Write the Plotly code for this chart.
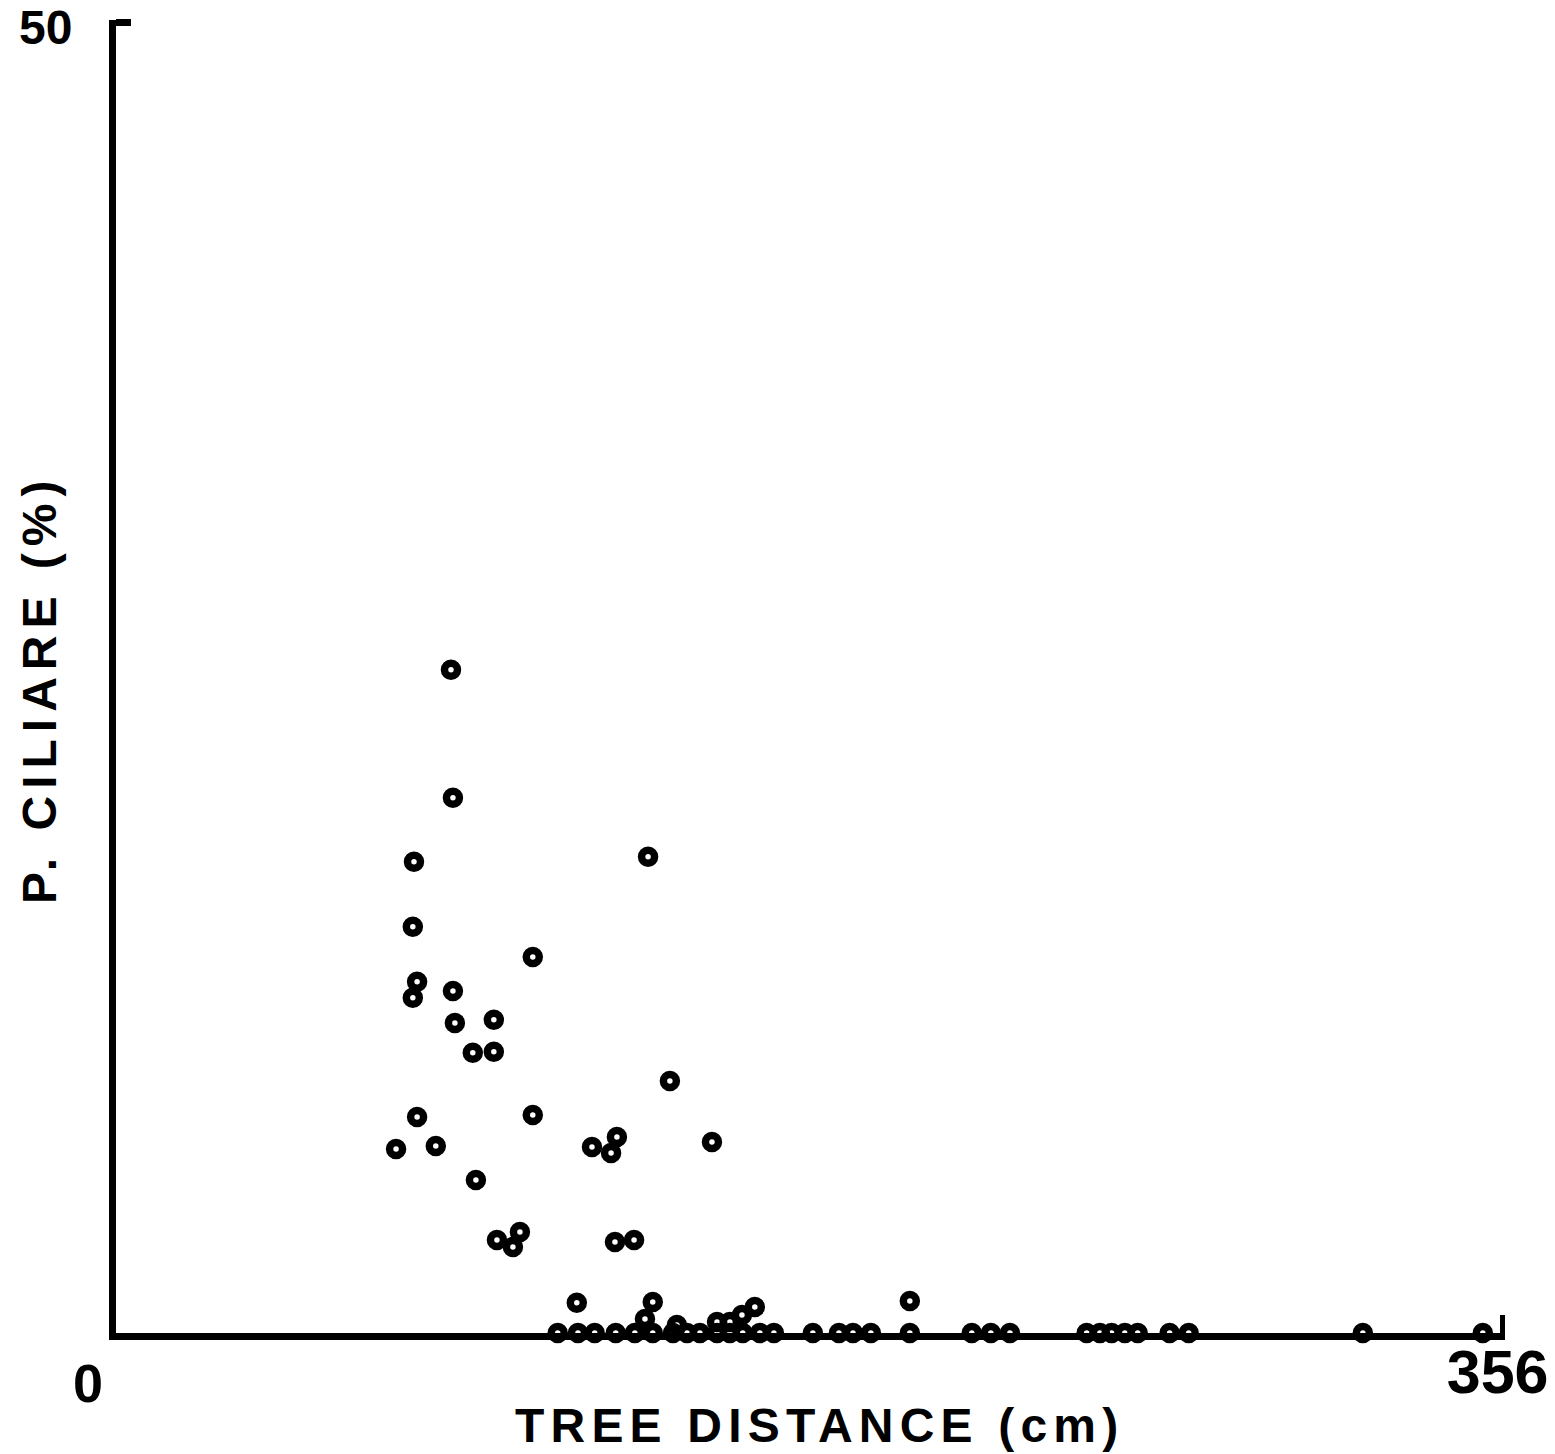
import plotly.graph_objects as go

# ---- data (tree distance in cm, P. ciliare in %) ----
dist_raised = [86.0, 86.5, 76.5, 136.6, 76.2, 107.0, 77.3, 76.2, 86.5, 87.0,
               97.0, 91.6, 97.0, 142.2, 77.3, 107.0, 71.9, 82.1, 122.2, 128.6,
               127.1, 153.0, 92.4, 97.8, 103.7, 101.9, 128.1, 133.0,
               118.3, 137.8, 135.8, 164.0, 160.7, 154.3, 157.6, 144.0, 203.8]
pct_raised = [25.31, 20.42, 17.98, 18.17, 15.50, 14.35, 13.40, 12.79, 13.05, 11.83,
              11.95, 10.69, 10.73, 9.62, 8.24, 8.32, 7.02, 7.14, 7.10, 7.48,
              6.87, 7.29, 5.84, 3.55, 3.85, 3.28, 3.47, 3.55,
              1.15, 1.18, 0.53, 0.99, 0.69, 0.42, 0.42, 0.31, 1.22]

dist_zero = [113.4, 118.6, 122.9, 128.3, 133.2, 137.8, 143.0, 146.6, 149.9, 154.3,
             157.6, 160.9, 165.3, 168.9, 178.9, 185.6, 189.2, 193.8, 203.8, 219.7,
             224.6, 229.5, 249.2, 252.6, 255.6, 259.0, 262.3, 270.5, 275.4, 320.1,
             350.9]
pct_zero = [0.0] * len(dist_zero)

x_ticks = [356]
x_tick_labels = ["356"]
y_ticks = [50]
y_tick_labels = ["50"]
x_title = "TREE DISTANCE (cm)"
y_title = "P. CILIARE (%)"

FONT = "Liberation Sans"

fig = go.Figure()
marker_style = dict(symbol="circle-open", size=13, color="black",
                    line=dict(width=7.5, color="black"))
fig.add_trace(go.Scatter(x=dist_raised, y=pct_raised, mode="markers",
                         marker=marker_style, cliponaxis=False, showlegend=False))
fig.add_trace(go.Scatter(x=dist_zero, y=pct_zero, mode="markers",
                         marker=marker_style, cliponaxis=False, showlegend=False))

fig.update_layout(
    width=1547, height=1446,
    margin=dict(l=108, r=50, t=12, b=121, autoexpand=False),
    paper_bgcolor="white", plot_bgcolor="white",
    font=dict(family=FONT, color="black"),
    xaxis=dict(
        range=[0, 356.6], showgrid=False, zeroline=False, automargin=False,
        showline=True, linewidth=7, linecolor="black",
        ticks="inside", ticklen=18, tickwidth=5, tickcolor="black",
        tickvals=x_ticks, ticktext=x_tick_labels,
        tickfont=dict(family=FONT, size=61, weight="bold", color="black"),
        ticklabelstandoff=-20, ticklabelshift=-5, ticklabeloverflow="allow",
    ),
    yaxis=dict(
        range=[0, 50.1], showgrid=False, zeroline=False, automargin=False,
        showline=True, linewidth=7, linecolor="black",
        ticks="inside", ticklen=15, tickwidth=7, tickcolor="black",
        tickvals=y_ticks, ticktext=y_tick_labels,
        tickfont=dict(family=FONT, size=48, weight="bold", color="black"),
        ticklabelstandoff=27, ticklabelshift=5, ticklabeloverflow="allow",
    ),
    annotations=[
        dict(text=f'<span style="letter-spacing:6.2px">{x_title}</span>',
             xref="paper", yref="paper", x=0.5067, y=-0.0701,
             xanchor="center", yanchor="middle", showarrow=False,
             font=dict(family=FONT, size=48, weight="bold", color="black")),
        dict(text=f'<span style="letter-spacing:7px">{y_title}</span>',
             xref="paper", yref="paper", x=-0.0547, y=0.4905,
             xanchor="center", yanchor="middle", textangle=-90, showarrow=False,
             font=dict(family=FONT, size=48, weight="bold", color="black")),
        dict(text="0", xref="paper", yref="paper", x=-0.0202, y=-0.0381,
             xanchor="center", yanchor="middle", showarrow=False,
             font=dict(family=FONT, size=54, weight="bold", color="black")),
    ],
)

fig.write_html("out.html")
